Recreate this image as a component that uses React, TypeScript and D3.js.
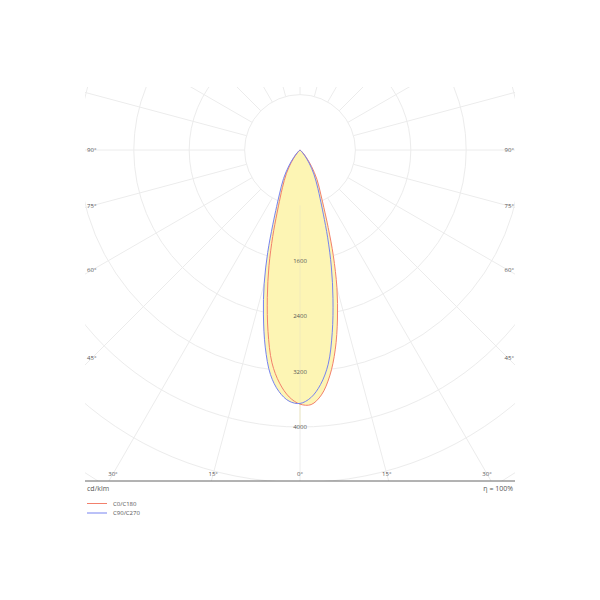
import React from "react";
import * as d3 from "d3";

// gamma angles (degrees from nadir)
const gammaAngles = [0, 2.5, 5, 7.5, 10, 12.5, 15, 17.5, 20, 22.5, 25, 30, 35, 40, 45, 50, 55, 60];
// luminous intensity, cd/klm
const c0 = [3670, 3680, 3550, 3290, 2930, 2500, 2060, 1600, 1190, 900, 715, 490, 290, 145, 60, 18, 4, 0];
const c180 = [3670, 3570, 3380, 3100, 2660, 2180, 1730, 1310, 970, 750, 600, 395, 225, 105, 42, 12, 2, 0];
const c90 = [3660, 3580, 3400, 3120, 2680, 2200, 1750, 1330, 985, 760, 610, 400, 230, 110, 44, 13, 3, 0];
const c270 = [3660, 3630, 3500, 3270, 2890, 2440, 2000, 1550, 1150, 880, 700, 475, 280, 140, 58, 17, 3, 0];

const ringValues = [800, 1600, 2400, 3200, 4000, 4800, 5600, 6400];
const ringLabels = ["1600", "2400", "3200", "4000"];
const spokeAngles = d3.range(-180, 180, 15);
const sideLabelAngles = [90, 75, 60, 45];
const bottomLabelAngles = [30, 15, 0];

const series = [
  { name: "C0/C180", right: c0, left: c180, color: "#f2806c" },
  { name: "C90/C270", right: c90, left: c270, color: "#7683f0" },
];

export default function App() {
  const cx = 300;
  const cy = 150;
  const box = { x0: 85, x1: 515, y0: 87, y1: 481 };
  const r = d3.scaleLinear().domain([0, 800]).range([0, 55.4]);
  const toRad = (g: number) => (g * Math.PI) / 180;

  const lineGen = d3
    .lineRadial<[number, number]>()
    .angle((d) => d[0])
    .radius((d) => r(d[1]))
    .curve(d3.curveCatmullRom.alpha(0.5));

  const buildPts = (left: number[], right: number[]) => {
    const pts: [number, number][] = [];
    for (let i = gammaAngles.length - 1; i >= 0; i--) {
      pts.push([Math.PI + toRad(gammaAngles[i]), left[i]]);
    }
    for (let i = 1; i < gammaAngles.length; i++) {
      pts.push([Math.PI - toRad(gammaAngles[i]), right[i]]);
    }
    return pts;
  };

  const labelStyle = { fontFamily: "'Open Sans', sans-serif", fontSize: 6, fill: "#555" } as const;
  const gridColor = "#ececec";

  const sideInset = 208;
  const bottomY = 474;

  return (
    <svg width={600} height={600} style={{ position: "absolute", left: 0, top: 0 }}>
      <rect width={600} height={600} fill="#fff" />
      <defs>
        <clipPath id="plotclip">
          <rect x={box.x0} y={box.y0} width={box.x1 - box.x0} height={box.y1 - box.y0} />
        </clipPath>
      </defs>
      <g clipPath="url(#plotclip)">
        {ringValues.map((v) => (
          <circle key={v} cx={cx} cy={cy} r={r(v)} fill="none" stroke={gridColor} strokeWidth={1} />
        ))}
        {spokeAngles.map((a) => {
          const dx = Math.sin(toRad(a));
          const dy = Math.cos(toRad(a));
          const r0 = r(800);
          const r1 = r(7000);
          return (
            <line
              key={a}
              x1={cx + dx * r0}
              y1={cy + dy * r0}
              x2={cx + dx * r1}
              y2={cy + dy * r1}
              stroke={gridColor}
              strokeWidth={1}
            />
          );
        })}
        <g transform={`translate(${cx},${cy})`}>
          {series.map((s) => (
            <path key={s.name + "f"} d={lineGen(buildPts(s.left, s.right)) || ""} fill="#fdf5b4" stroke="none" />
          ))}
          <line x1={0} y1={r(800)} x2={0} y2={r(4000)} stroke="#efe9bd" strokeWidth={0.8} />
          {series.map((s) => (
            <path
              key={s.name}
              d={lineGen(buildPts(s.left, s.right)) || ""}
              fill="none"
              stroke={s.color}
              strokeWidth={1}
            />
          ))}
        </g>
        {ringLabels.map((t) => (
          <text key={t} x={cx} y={cy + r(+t) + 2} textAnchor="middle" {...labelStyle}>
            {t}
          </text>
        ))}
      </g>
      {sideLabelAngles.map((a) => {
        const yy = a === 90 ? cy : cy + sideInset / Math.tan(toRad(a));
        return (
          <g key={a}>
            <text x={box.x0 + 2} y={yy + 2} {...labelStyle}>
              {a}°
            </text>
            <text x={box.x1 - 1} y={yy + 2} textAnchor="end" {...labelStyle}>
              {a}°
            </text>
          </g>
        );
      })}
      {bottomLabelAngles.map((a) => {
        const dx = (bottomY - cy) * Math.tan(toRad(a));
        return (
          <g key={a}>
            <text x={cx - dx} y={bottomY + 2} textAnchor="middle" {...labelStyle}>
              {a}°
            </text>
            {a !== 0 && (
              <text x={cx + dx} y={bottomY + 2} textAnchor="middle" {...labelStyle}>
                {a}°
              </text>
            )}
          </g>
        );
      })}
      <line x1={box.x0} x2={box.x1} y1={box.y1} y2={box.y1} stroke="#666" strokeWidth={1} />
      <text x={box.x0 + 2} y={491} {...labelStyle} fontSize={7}>
        cd/klm
      </text>
      <text x={box.x1 - 2} y={491} textAnchor="end" {...labelStyle} fontSize={7}>
        η = 100%
      </text>
      {series.map((s, i) => (
        <g key={s.name} transform={`translate(${box.x0 + 2},${503.5 + i * 9.5})`}>
          <line x1={0} x2={20} y1={0} y2={0} stroke={s.color} strokeWidth={1} />
          <text x={26} y={2} {...labelStyle}>
            {s.name}
          </text>
        </g>
      ))}
    </svg>
  );
}
